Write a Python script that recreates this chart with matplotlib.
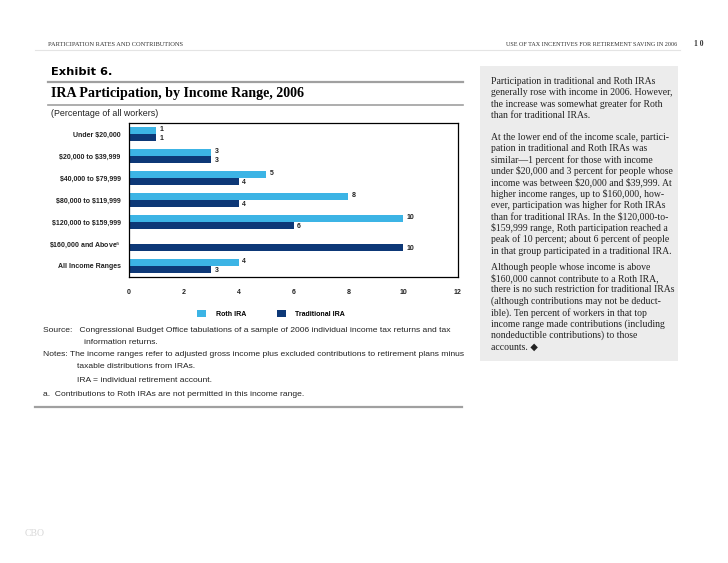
import numpy as np
import matplotlib.pyplot as plt
from matplotlib.patches import Patch, Rectangle
from matplotlib.lines import Line2D

# data read from the exhibit
categories = ['Under \\$20,000', '\\$20,000 to \\$39,999', '\\$40,000 to \\$79,999',
              '\\$80,000 to \\$119,999', '\\$120,000 to \\$159,999',
              '\\$160,000 and Above$^{\\mathrm{a}}$', 'All Income Ranges']
roth = [1, 3, 5, 8, 10, np.nan, 4]
traditional = [1, 3, 4, 4, 6, 10, 3]
xticks = [0, 2, 4, 6, 8, 10, 12]

ROTH_C = '#3cb4e5'
TRAD_C = '#0d3877'

W, H = 728, 563
fig = plt.figure(figsize=(W / 100, H / 100), dpi=100)
fig.patch.set_facecolor('white')

def fx(x):
    return x / W

def fy(y):
    return 1 - y / H

def hline(x0, x1, y, color='#b0b0b0', lw=1.0):
    fig.add_artist(Line2D([fx(x0), fx(x1)], [fy(y), fy(y)], color=color, lw=lw))

sans = 'Liberation Sans'
serif = 'Liberation Serif'

# page header
fig.text(fx(48), fy(44), 'PARTICIPATION RATES AND CONTRIBUTIONS', fontsize=4.6,
         family=serif, va='center', color='#333333')
fig.text(fx(677), fy(44), 'USE OF TAX INCENTIVES FOR RETIREMENT SAVING IN 2006', fontsize=4.45,
         family=serif, va='center', ha='right', color='#333333')
fig.text(fx(704), fy(44), '1 0', fontsize=5.5, family=serif, va='center', ha='right',
         weight='bold', color='#333333')
hline(35, 680, 50, color='#e4e4e4', lw=0.8)

# exhibit titles
fig.text(fx(51), fy(72), 'Exhibit 6.', fontsize=8.2, family='DejaVu Sans', weight='heavy', va='center')
hline(48, 463, 82, color='#a0a0a0', lw=1.6)
fig.text(fx(51), fy(93), 'IRA Participation, by Income Range, 2006', fontsize=10.1,
         family=serif, weight='bold', va='center')
hline(48, 463, 105, color='#a0a0a0', lw=1.2)
fig.text(fx(51), fy(113), '(Percentage of all workers)', fontsize=6.4, family=sans, va='center',
         color='#222222')

# chart
ax = fig.add_axes([fx(129), fy(277), fx(458) - fx(129), fy(123) - fy(277)])
y = np.arange(len(categories))
bh = 0.32
ax.barh(y - bh / 2, roth, height=bh, color=ROTH_C)
ax.barh(y + bh / 2, traditional, height=bh, color=TRAD_C)
for i in range(len(categories)):
    if not np.isnan(roth[i]):
        ax.text(roth[i] + 0.12, y[i] - bh / 2 - 0.06, '%d' % roth[i], fontsize=5,
                family=sans, weight='bold', va='center', color='#222222')
    ax.text(traditional[i] + 0.12, y[i] + bh / 2 + 0.04, '%d' % traditional[i], fontsize=5,
            family=sans, weight='bold', va='center', color='#222222')
ax.set_xlim(0, 12)
ax.set_ylim(len(categories) - 0.5, -0.5)
ax.set_xticks(xticks)
ax.set_xticklabels([str(t) for t in xticks], fontsize=5, family=sans, weight='bold',
                   color='#222222')
ax.set_yticks(y)
ax.set_yticklabels(categories, fontsize=5, family=sans, weight='bold', color='#222222')
ax.tick_params(axis='both', length=0)
ax.tick_params(axis='x', pad=9)
ax.tick_params(axis='y', pad=6)
for s in ax.spines.values():
    s.set_linewidth(0.9)
    s.set_color('black')

# legend
handles = [Patch(facecolor=ROTH_C, label='Roth IRA'), Patch(facecolor=TRAD_C, label='Traditional IRA')]
fig.legend(handles=handles, loc='center', bbox_to_anchor=(fx(271), fy(314)), ncol=2, frameon=False,
           prop={'family': sans, 'size': 5, 'weight': 'bold'}, handlelength=1.3, handleheight=1.1,
           columnspacing=4.4, handletextpad=1.4)

# source and notes
note_fs = 6.1
nc = '#222222'
fig.text(fx(43), fy(331), 'Source:   Congressional Budget Office tabulations of a sample of 2006 individual income tax returns and tax',
         fontsize=note_fs, family=sans, va='center', color=nc)
fig.text(fx(84), fy(342), 'information returns.', fontsize=note_fs, family=sans, va='center', color=nc)
fig.text(fx(43), fy(355), 'Notes: The income ranges refer to adjusted gross income plus excluded contributions to retirement plans minus',
         fontsize=note_fs, family=sans, va='center', color=nc)
fig.text(fx(77), fy(366), 'taxable distributions from IRAs.', fontsize=note_fs, family=sans, va='center', color=nc)
fig.text(fx(77), fy(381), 'IRA = individual retirement account.', fontsize=note_fs, family=sans, va='center', color=nc)
fig.text(fx(43), fy(395), 'a.  Contributions to Roth IRAs are not permitted in this income range.', fontsize=note_fs,
         family=sans, va='center', color=nc)
hline(35, 462, 407, color='#a0a0a0', lw=1.6)

# sidebar
fig.add_artist(Rectangle((fx(480), fy(361)), fx(678) - fx(480), fy(66) - fy(361),
                         facecolor='#ececec', edgecolor='none'))
para1 = ['Participation in traditional and Roth IRAs',
         'generally rose with income in 2006. However,',
         'the increase was somewhat greater for Roth',
         'than for traditional IRAs.']
para2 = ['At the lower end of the income scale, partici-',
         'pation in traditional and Roth IRAs was',
         'similar\u20141 percent for those with income',
         'under \\$20,000 and 3 percent for people whose',
         'income was between \\$20,000 and \\$39,999. At',
         'higher income ranges, up to \\$160,000, how-',
         'ever, participation was higher for Roth IRAs',
         'than for traditional IRAs. In the \\$120,000-to-',
         '\\$159,999 range, Roth participation reached a',
         'peak of 10 percent; about 6 percent of people',
         'in that group participated in a traditional IRA.']
para3 = ['Although people whose income is above',
         '\\$160,000 cannot contribute to a Roth IRA,',
         'there is no such restriction for traditional IRAs',
         '(although contributions may not be deduct-',
         'ible). Ten percent of workers in that top',
         'income range made contributions (including',
         'nondeductible contributions) to those',
         'accounts. \u25c6']
step = 11.4
for start, para in [(81, para1), (137, para2), (267, para3)]:
    for k, line in enumerate(para):
        fig.text(fx(491), fy(start + k * step), line, fontsize=7.0, family=[serif, 'DejaVu Sans'],
                 va='center', color='#222222')

fig.text(fx(25), fy(533), 'CBO', fontsize=7, family=serif, va='center', color='#d8d8d8')

plt.savefig('out.png', dpi=100)
